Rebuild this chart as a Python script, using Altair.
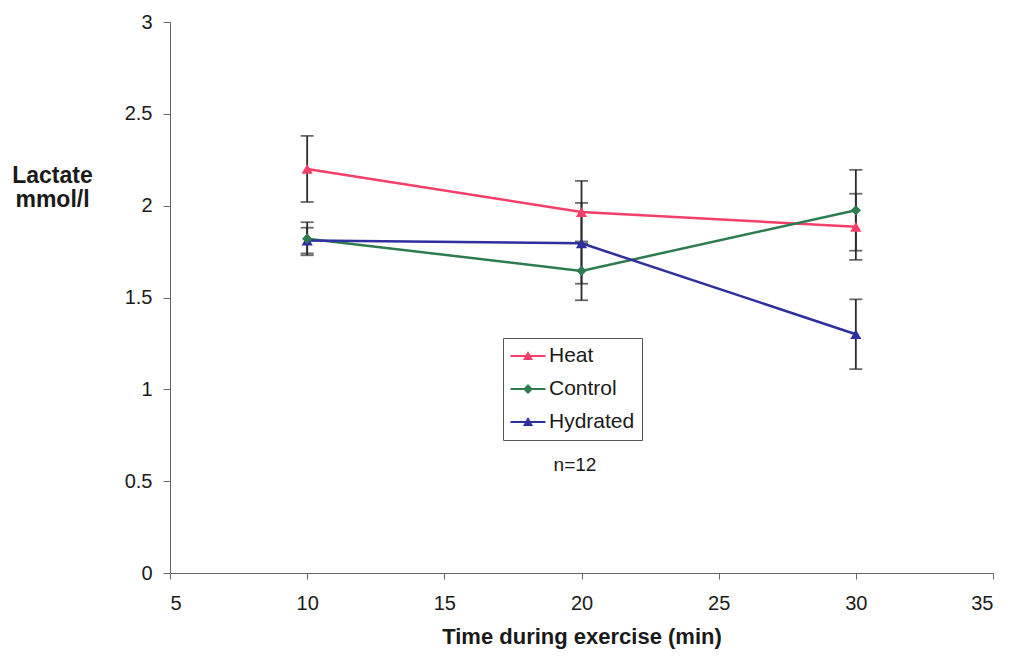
import altair as alt
import pandas as pd

# Blood lactate during exercise, mean ± error per condition
times = [10, 20, 30]
series = ["Heat", "Control", "Hydrated"]
heat = [2.20, 1.965, 1.885]
control = [1.82, 1.645, 1.975]
hydrated = [1.81, 1.795, 1.30]
heat_err = [0.18, 0.17, 0.18]
control_err = [0.09, 0.16, 0.22]
hydrated_err = [0.07, 0.22, 0.19]

colors = ["#F43F6A", "#2E7B50", "#2F2FA0"]

rows = []
for name, vals, errs in [("Heat", heat, heat_err), ("Control", control, control_err),
                         ("Hydrated", hydrated, hydrated_err)]:
    for t, v, e in zip(times, vals, errs):
        rows.append({"time": t, "lactate": v, "lo": v - e, "hi": v + e, "series": name})
df = pd.DataFrame(rows)

FONT = "Liberation Sans"
AXIS_GREY = "#666666"
TEXT = "#1a1a1a"
ERR = "#2b2b2b"

x_scale = alt.Scale(domain=[5, 35], nice=False, zero=False)
y_scale = alt.Scale(domain=[0, 3], nice=False)

x_axis = alt.Axis(values=[5, 10, 15, 20, 25, 30, 35], title="Time during exercise (min)",
                  grid=False, domainColor=AXIS_GREY, tickColor=AXIS_GREY,
                  tickSize=6, labelPadding=14, labelFontSize=20, labelColor=TEXT,
                  labelFont=FONT, titleFont=FONT, titleFontSize=22, titleFontWeight="bold",
                  titleColor=TEXT, titlePadding=13)
y_axis = alt.Axis(values=[0, 0.5, 1, 1.5, 2, 2.5, 3], format=".1~f", grid=False,
                  domainColor=AXIS_GREY, tickColor=AXIS_GREY, tickSize=7, labelPadding=11,
                  labelFontSize=20, labelColor=TEXT, labelFont=FONT,
                  title=["Lactate", "mmol/l"], titleAngle=0, titleAlign="center",
                  titleBaseline="alphabetic", titleX=-118, titleY=160, titleLineHeight=24,
                  titleFont=FONT, titleFontSize=23, titleFontWeight="bold", titleColor=TEXT)

X = alt.X("time:Q", scale=x_scale, axis=x_axis)
Y = alt.Y("lactate:Q", scale=y_scale, axis=y_axis)

# Legend symbols: a short line with the series marker on it
bar = "M-1.05,-0.11L2.45,-0.11L2.45,0.11L-1.05,0.11Z"
tri = "M0.7,-0.5L1.2,0.4L0.2,0.4Z"
dia = "M0.7,-0.5L1.2,0L0.7,0.5L0.2,0Z"
legend_opts = dict(orient="none", legendX=333, legendY=316, padding=7.5,
                   symbolSize=400, rowPadding=11, labelOffset=17.5,
                   symbolOpacity=1, symbolStrokeWidth=0,
                   strokeColor="#555555", fillColor="white",
                   labelFont=FONT, labelFontSize=21, labelColor=TEXT)
color_enc = alt.Color("series:N", scale=alt.Scale(domain=series, range=colors),
                      title=None, legend=alt.Legend(**legend_opts))

base = alt.Chart(df)

err_rule = base.mark_rule(color=ERR, strokeWidth=1.8).encode(
    x=alt.X("time:Q", scale=x_scale), y=alt.Y("lo:Q", scale=y_scale), y2="hi:Q")
err_lo = base.mark_tick(color=ERR, orient="horizontal", size=13, thickness=1.8).encode(
    x=alt.X("time:Q", scale=x_scale), y=alt.Y("lo:Q", scale=y_scale))
err_hi = base.mark_tick(color=ERR, orient="horizontal", size=13, thickness=1.8).encode(
    x=alt.X("time:Q", scale=x_scale), y=alt.Y("hi:Q", scale=y_scale))

lines = base.mark_line(strokeWidth=2.5).encode(x=X, y=Y, color=color_enc, detail="series:N")

tri_points = base.transform_filter(alt.datum.series != "Control").mark_point(
    filled=True, size=125, opacity=1, shape="triangle-up").encode(x=X, y=Y, color=color_enc)
dia_points = base.transform_filter(alt.datum.series == "Control").mark_point(
    filled=True, size=105, opacity=1, shape="diamond").encode(x=X, y=Y, color=color_enc)

legend_layer = base.mark_point(filled=True, opacity=0).encode(
    x=X, y=Y, color=color_enc,
    shape=alt.Shape("series:N",
                    scale=alt.Scale(domain=series, range=[bar + tri, bar + dia, bar + tri]),
                    title=None, legend=alt.Legend(**legend_opts)))

note = alt.Chart(pd.DataFrame({"label": ["n=12"]})).mark_text(
    font=FONT, fontSize=19, color=TEXT).encode(
    text="label:N", x=alt.value(405), y=alt.value(443))

chart = alt.layer(err_rule, err_lo, err_hi, lines, tri_points, dia_points, legend_layer, note).properties(
    width=823, height=551,
    autosize=alt.AutoSizeParams(type="none"),
    padding={"left": 170, "top": 22, "right": 17, "bottom": 86},
    background="white",
).configure_view(stroke=None)

chart.save("out.html", embed_options={"renderer": "svg", "actions": False})
